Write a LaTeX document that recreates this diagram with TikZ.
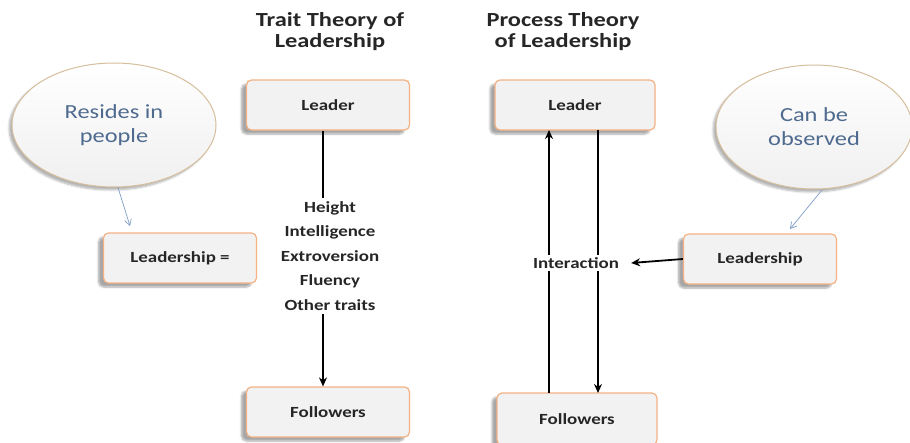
\documentclass[tikz,border=0pt]{standalone}
\usepackage{fontspec}
\setmainfont[FakeStretch=1.22]{Carlito}
\usetikzlibrary{shapes.geometric,arrows.meta,shadows.blur}
\definecolor{boxfill}{HTML}{F2F2F2}
\definecolor{boxborder}{HTML}{F4B183}
\definecolor{ellborder}{HTML}{D6BE9C}
\definecolor{elltext}{HTML}{4F6A8F}
\definecolor{bluearr}{HTML}{7F9CC4}
\definecolor{txt}{HTML}{262626}
\tikzset{
  box/.style={draw=boxborder, line width=1.2pt, fill=boxfill, rounded corners=5pt,
    minimum width=#1, minimum height=50pt, font=\fontsize{15.5}{18}\selectfont\bfseries, text=txt,
    blur shadow={shadow xshift=-5pt, shadow yshift=-4pt, shadow blur steps=6, shadow opacity=35}},
  box/.default=160pt,
  bubble/.style={ellipse, draw=ellborder, line width=1pt, top color=white, bottom color=black!6,
    minimum width=#1, minimum height=124pt, inner sep=0pt, align=center,
    font=\fontsize{20}{24}\selectfont, text=elltext,
    blur shadow={shadow xshift=-3pt, shadow yshift=-3pt, shadow blur steps=6, shadow opacity=30}},
  title/.style={align=center, font=\fontsize{20}{21}\selectfont\bfseries, text=txt},
  trait/.style={font=\fontsize{15.5}{18}\selectfont\bfseries, text=txt},
  blk/.style={line width=1.8pt, draw=black},
  blkarr/.style={blk, -{Stealth[length=9pt,width=8pt]}},
  thin/.style={draw=bluearr, line width=0.7pt, -{Straight Barb[length=6pt,width=7pt]}}
}
\begin{document}
\begin{tikzpicture}[x=1pt,y=-1pt]
\useasboundingbox (0,0) rectangle (910,442);
\node[title] (t1) at (330,32) {Trait Theory of\\Leadership};
\node[title] (t2) at (563,32) {Process Theory\\of Leadership};

\node[bubble=204pt] (e1) at (114,125) {Resides in\\people};
\node[bubble=196pt] (e2) at (814,127) {Can be\\observed};

\node[box=163pt] (l1) at (328,105) {Leader};
\node[box=163pt] (f1) at (328,412) {Followers};
\node[box=160pt] (l2) at (575,105) {Leader};
\node[box=160pt, minimum height=52pt] (f2) at (577,419) {Followers};
\node[box=153pt] (ls1) at (180,258) {Leadership =};
\node[box=153pt] (ls2) at (760,259) {Leadership};

\node[trait] (h) at (330,208) {Height};
\node[trait] (i) at (330,232) {Intelligence};
\node[trait] (x) at (330,256) {Extroversion};
\node[trait] (fl) at (330,281) {Fluency};
\node[trait] (o) at (330,305) {Other traits};

\draw[blk] (l1.south -| 323,0) -- (h.north -| 323,0);
\draw[blkarr] (o.south -| 323,0) -- (f1.north -| 323,0);

\coordinate (upb) at (549,393);
\coordinate (upt) at (549,130);
\coordinate (dnt) at (598,130);
\coordinate (dnb) at (598,393);
\draw[blkarr] (upb) -- (upt);
\draw[blkarr] (dnt) -- (dnb);
\node[trait, fill=white, inner sep=2pt] (int) at (576,263) {Interaction};
\draw[blkarr] (ls2.west) -- ([xshift=10pt]int.east);

\draw[thin] (e1.south) ++(4,0) coordinate (a1) -- (130,226) coordinate (b1);
\draw[thin] (822,190) coordinate (a2) -- (790,229) coordinate (b2);
\end{tikzpicture}
\end{document}
